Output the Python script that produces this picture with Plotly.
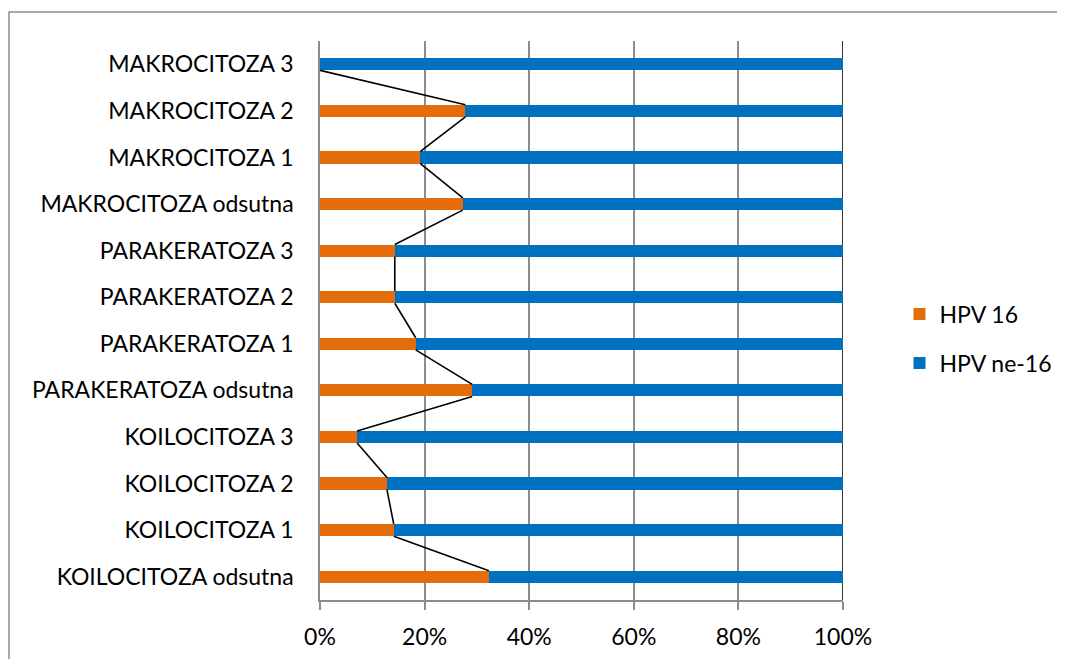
import plotly.graph_objects as go

categories = [
    "KOILOCITOZA odsutna", "KOILOCITOZA 1", "KOILOCITOZA 2", "KOILOCITOZA 3",
    "PARAKERATOZA odsutna", "PARAKERATOZA 1", "PARAKERATOZA 2", "PARAKERATOZA 3",
    "MAKROCITOZA odsutna", "MAKROCITOZA 1", "MAKROCITOZA 2", "MAKROCITOZA 3",
]
hpv16 = [32.3, 14.1, 12.8, 7.1, 29.1, 18.3, 14.3, 14.3, 27.3, 19.2, 27.8, 0.0]
hpv_ne16 = [round(100 - v, 1) for v in hpv16]
x_ticks = [0, 20, 40, 60, 80, 100]
x_ticktext = ["0%", "20%", "40%", "60%", "80%", "100%"]

ORANGE = "#E46C0A"
BLUE = "#0070C0"
GRID = "#8C8C8C"
FONT = "Lato"
FSIZE = 23
BAR_W = 0.26

ypos = list(range(len(categories)))

fig = go.Figure()
fig.add_trace(go.Bar(
    y=ypos, x=hpv16, orientation="h", name="HPV 16",
    marker=dict(color=ORANGE, line=dict(width=0)), width=BAR_W,
    legendgroup="a",
))
fig.add_trace(go.Bar(
    y=ypos, x=hpv_ne16, orientation="h", name="HPV ne-16",
    marker=dict(color=BLUE, line=dict(width=0)), width=BAR_W,
    legendgroup="b",
))

# Series lines connecting the ends of the HPV 16 segments
sx, sy = [], []
h = BAR_W / 2
for i in range(len(categories) - 1):
    sx += [hpv16[i], hpv16[i + 1], None]
    sy += [i + h, i + 1 - h, None]
fig.add_trace(go.Scatter(
    x=sx, y=sy, mode="lines", line=dict(color="black", width=1.6),
    showlegend=False, hoverinfo="skip",
))

# page body has an 8px margin, so figure coords = window coords - 8
L, T, PW, PH = 312, 33, 523, 559
fig.update_layout(
    width=1065, height=659,
    barmode="stack",
    paper_bgcolor="white", plot_bgcolor="white",
    margin=dict(l=L, r=1065 - L - PW, t=T, b=659 - T - PH, autoexpand=False),
    font=dict(family=FONT, size=FSIZE, color="black"),
    showlegend=True,
    legend=dict(
        x=1.108, y=0.55, xanchor="left", yanchor="top",
        traceorder="grouped", tracegroupgap=16,
        font=dict(family=FONT, size=FSIZE, color="black"),
        bgcolor="rgba(0,0,0,0)",
    ),
    xaxis=dict(
        range=[0, 100], tickmode="array", tickvals=x_ticks, ticktext=x_ticktext,
        showgrid=True, gridcolor=GRID, gridwidth=1.5,
        showline=True, linecolor=GRID, linewidth=1.5,
        ticks="outside", ticklen=8, tickcolor=GRID, tickwidth=1.5,
        zeroline=False, ticklabelstandoff=8, automargin=False,
    ),
    yaxis=dict(
        range=[-0.5, 11.5], tickmode="array", tickvals=ypos, ticktext=categories,
        showgrid=False, showline=True, linecolor=GRID, linewidth=1.5,
        ticks="", zeroline=False, ticklabelstandoff=20, automargin=False,
    ),
    shapes=[
        dict(type="line", xref="x", yref="paper", x0=100, x1=100, y0=0, y1=1,
             line=dict(color="black", width=1.6), layer="below"),
        dict(type="rect", xref="paper", yref="paper",
             x0=(1 - L) / PW, x1=(1055 - L) / PW,
             y0=-(700 - T - PH) / PH, y1=1 + (T - 4) / PH,
             line=dict(color=GRID, width=1.5), fillcolor="rgba(0,0,0,0)"),
    ],
)

fig.write_html("out.html")
